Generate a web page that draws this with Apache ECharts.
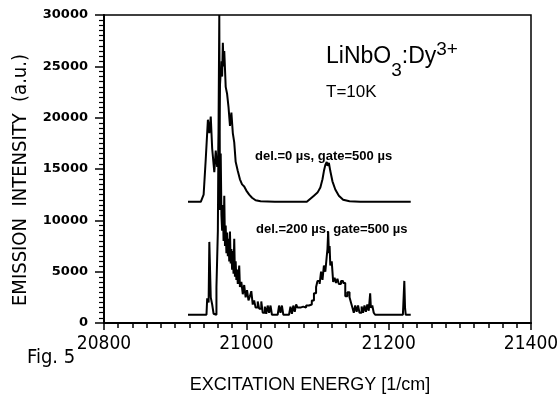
<!DOCTYPE html>
<html>
<head>
<meta charset="utf-8">
<script src="https://cdn.jsdelivr.net/npm/echarts@6/dist/echarts.min.js"></script>
<style>
  html, body { margin: 0; padding: 0; background: #fff; }
  #chart { width: 557px; height: 398px; }
</style>
</head>
<body>
<div id="chart"></div>
<script>
// excitation energy [1/cm] and intensity
const energyUpper = [20918, 20936, 20940, 20943, 20946, 20948, 20950, 20952, 20955, 20957, 20959, 20961,
  20963, 20965, 20966, 20967, 20968, 20969, 20971, 20973, 20975, 20977, 20979, 20981, 20983, 20985,
  20988, 20991, 20994, 20997, 21000, 21004, 21008, 21013, 21020, 21040, 21085, 21090, 21095, 21100,
  21104, 21107, 21109, 21111, 21113, 21114, 21116, 21118, 21121, 21125, 21130, 21136, 21145, 21160, 21231]
const intensityUpper = [11800, 11800, 12500, 16000, 19800, 18500, 20100, 17000, 14700, 16800, 15200, 16500,
  23200, 25500, 24000, 27300, 25000, 26500, 23000, 22300, 21000, 19200, 20500, 18500, 17600, 15700,
  14800, 14000, 13500, 13300, 12900, 12500, 12200, 11950, 11850, 11800, 11800, 12100, 12400, 12700,
  13200, 14000, 14800, 15400, 15700, 15300, 15600, 14800, 13800, 13000, 12400, 12000, 11850, 11800, 11800]

const energyLower = [20918, 20944, 20945, 20947, 20948, 20950, 20952, 20954, 20956, 20958, 20960, 20962,
  20963, 20964, 20965, 20966, 20967, 20968, 20969, 20970, 20971, 20972, 20973, 20974, 20975, 20976,
  20977, 20978, 20979, 20980, 20981, 20982, 20983, 20984, 20985, 20986, 20987, 20988, 20990, 20991,
  20993, 20995, 20997, 20999, 21001, 21003, 21005, 21007, 21009, 21011, 21013, 21016, 21018, 21021,
  21023, 21026, 21028, 21030, 21032, 21034, 21036, 21044, 21046, 21048, 21050, 21052, 21060, 21062,
  21064, 21066, 21068, 21070, 21072, 21076, 21080, 21084, 21088, 21092, 21095, 21098, 21100, 21103,
  21105, 21107, 21109, 21111, 21113, 21114, 21115, 21116, 21117, 21118, 21120, 21122, 21124, 21126,
  21128, 21130, 21133, 21136, 21139, 21142, 21145, 21147, 21149, 21151, 21153, 21155, 21157, 21159,
  21162, 21164, 21166, 21168, 21170, 21172, 21174, 21175, 21177, 21179, 21181, 21220, 21222, 21223,
  21224, 21231]
const intensityLower = [800, 800, 2400, 2000, 7900, 2500, 1800, 900, 800, 3500, 9000, 30000,
  11000, 16500, 10500, 9000, 11500, 8000, 12400, 7500, 9500, 6800, 8800, 6500, 8200, 6000,
  8900, 5800, 7200, 5200, 7000, 4800, 8200, 4500, 6000, 4200, 5200, 3800, 5600, 3500,
  4000, 2800, 3700, 2500, 3200, 2200, 2600, 3100, 1800, 2200, 1500, 2100, 1400, 2100,
  1000, 1600, 900, 1700, 1000, 1700, 800, 800, 1700, 1000, 1700, 800, 800, 1600,
  900, 1700, 1100, 1800, 1500, 1600, 1500, 1700, 1800, 2200, 2900, 3500, 4100, 3800,
  5000, 4200, 5600, 5000, 6500, 7200, 8900, 6800, 7500, 5600, 6000, 4000, 4400, 3900,
  4300, 3800, 4100, 3900, 2600, 3000, 2500, 2000, 1500, 1000, 1700, 1100, 1700, 1000,
  1600, 1000, 1700, 1100, 1800, 1200, 2900, 1500, 1700, 1000, 800, 800, 4100, 1500,
  800, 800]

const xTicks = [20800, 21000, 21200, 21400]
const yTicks = [0, 5000, 10000, 15000, 20000, 25000, 30000]

const pairs = (xs, ys) => xs.map((x, i) => [x, ys[i]])

const chart = echarts.init(document.getElementById('chart'))
const ink = '#000'
const narrow = "'Liberation Sans Narrow', 'DejaVu Sans Condensed', 'Liberation Sans', sans-serif"
const plain = "'Liberation Sans', Arial, sans-serif"

const option = {
  animation: false,
  backgroundColor: '#fff',
  grid: {
    left: 104, right: 26, top: 15, bottom: 75,
    containLabel: false, outerBoundsMode: 'none',
    show: true, borderColor: ink, borderWidth: 1.5
  },
  xAxis: {
    type: 'value',
    min: xTicks[0], max: xTicks[xTicks.length - 1], interval: 200,
    axisLine: { lineStyle: { color: ink, width: 2 } },
    axisTick: { inside: false, length: 7, lineStyle: { color: ink, width: 1.5 } },
    minorTick: { show: true, splitNumber: 10, length: 5, lineStyle: { color: ink, width: 1.5 } },
    splitLine: { show: false },
    axisLabel: { margin: 12, fontFamily: narrow, fontSize: 19, color: ink, formatter: v => String(v) }
  },
  yAxis: {
    type: 'value',
    min: yTicks[0], max: yTicks[yTicks.length - 1], interval: 5000,
    axisLine: { lineStyle: { color: ink, width: 2 } },
    axisTick: { inside: false, length: 9, lineStyle: { color: ink, width: 1.5 } },
    minorTick: { show: true, splitNumber: 10, length: 5, lineStyle: { color: ink, width: 1.2 } },
    splitLine: { show: false },
    axisLabel: { margin: 16, fontFamily: 'DejaVu Sans', fontWeight: 'bold', fontSize: 13, color: ink, formatter: v => String(v) }
  },
  series: [
    {
      name: 'del.=0 µs',
      type: 'line',
      data: pairs(energyUpper, intensityUpper),
      showSymbol: false,
      lineStyle: { color: ink, width: 2 }
    },
    {
      name: 'del.=200 µs',
      type: 'line',
      step: 'end',
      data: pairs(energyLower, intensityLower),
      showSymbol: false,
      lineStyle: { color: ink, width: 2 }
    }
  ],
  graphic: [
    {
      type: 'text', x: 21, y: 180, rotation: Math.PI / 2,
      style: {
        text: 'EMISSION  INTENSITY  (a.u.)', fontFamily: narrow, fontSize: 20, fill: ink,
        align: 'center', verticalAlign: 'middle'
      }
    },
    {
      type: 'text', x: 310, y: 385,
      style: {
        text: 'EXCITATION ENERGY [1/cm]', fontFamily: plain, fontSize: 18, fill: ink,
        align: 'center', verticalAlign: 'middle'
      }
    },
    {
      type: 'text', left: 326, top: 40,
      style: {
        text: '{n|LiNbO}{sub|3}{n|:Dy}{sup|3+}',
        rich: {
          n: { fontFamily: plain, fontSize: 23, fill: ink, verticalAlign: 'bottom' },
          sub: { fontFamily: plain, fontSize: 19, fill: ink, padding: [0, 0, -12, 0], verticalAlign: 'bottom' },
          sup: { fontFamily: plain, fontSize: 19, fill: ink, padding: [0, 0, 9, 0], verticalAlign: 'bottom' }
        }
      }
    },
    {
      type: 'text', left: 326, top: 84,
      style: { text: 'T=10K', fontFamily: plain, fontSize: 17, fill: ink }
    },
    {
      type: 'text', left: 255, top: 150,
      style: { text: 'del.=0 µs, gate=500 µs', fontFamily: plain, fontWeight: 'bold', fontSize: 13, fill: ink }
    },
    {
      type: 'text', left: 256, top: 223,
      style: { text: 'del.=200 µs, gate=500 µs', fontFamily: plain, fontWeight: 'bold', fontSize: 13, fill: ink }
    },
    {
      type: 'text', left: 27, top: 348,
      style: { text: 'Fig. 5', fontFamily: narrow, fontSize: 20, fill: ink }
    }
  ]
}

chart.setOption(option)
</script>
</body>
</html>
